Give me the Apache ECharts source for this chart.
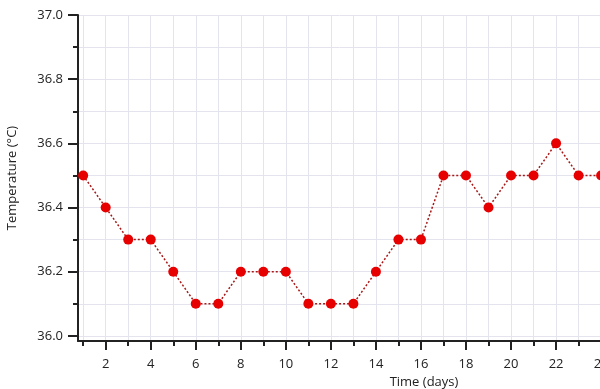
<!DOCTYPE html>
<html>
<head>
<meta charset="utf-8">
<script src="https://cdn.jsdelivr.net/npm/echarts@6/dist/echarts.min.js"></script>
<style>
  html, body { margin: 0; padding: 0; background: #fff; }
  #chart { width: 600px; height: 389px; }
</style>
</head>
<body>
<div id="chart"></div>
<script>
// days and temperatures (the picture is cut at day 24)
const days = [1, 2, 3, 4, 5, 6, 7, 8, 9, 10, 11, 12, 13, 14, 15, 16, 17, 18, 19, 20, 21, 22, 23, 24];
const temps = [36.5, 36.4, 36.3, 36.3, 36.2, 36.1, 36.1, 36.2, 36.2, 36.2, 36.1, 36.1, 36.1, 36.2,
               36.3, 36.3, 36.5, 36.5, 36.4, 36.5, 36.5, 36.6, 36.5, 36.5];

const xMajor = [2, 4, 6, 8, 10, 12, 14, 16, 18, 20, 22, 24, 26, 28, 30];
const xMinor = [1, 3, 5, 7, 9, 11, 13, 15, 17, 19, 21, 23, 25, 27, 29, 31];
const yMajor = [36.0, 36.2, 36.4, 36.6, 36.8, 37.0];
const yMinor = [36.1, 36.3, 36.5, 36.7, 36.9];

const font = '"Open Sans", "DejaVu Sans", sans-serif';
const gridLine = { show: true, lineStyle: { color: '#e4e4ee', width: 1 } };

let chart = echarts.init(document.getElementById('chart'));

let option = {
    animation: false,
    // the original plot runs on past the right edge of the picture
    grid: { left: 78, right: -170, top: 15, bottom: 48, outerBoundsMode: 'none', containLabel: false },
    xAxis: [
        {
            type: 'value',
            min: 0.77,
            max: 31.5,
            name: 'Time (days)',
            nameLocation: 'middle',
            nameGap: 33,
            nameTextStyle: { fontFamily: font, fontSize: 13, color: '#222' },
            axisLine: { show: true, onZero: false, lineStyle: { color: '#222', width: 2 } },
            axisTick: { show: true, length: 9, customValues: xMajor, lineStyle: { color: '#222', width: 2 } },
            axisLabel: { customValues: xMajor, margin: 17, fontFamily: font, fontSize: 13, color: '#222' },
            splitLine: gridLine
        },
        {
            type: 'value',
            min: 0.77,
            max: 31.5,
            position: 'bottom',
            axisLine: { show: false, onZero: false },
            axisTick: { show: true, length: 5, customValues: xMinor, lineStyle: { color: '#222', width: 2 } },
            axisLabel: { show: false },
            splitLine: gridLine
        }
    ],
    yAxis: [
        {
            type: 'value',
            min: 35.984,
            max: 37.0,
            name: 'Temperature (°C)',
            nameLocation: 'middle',
            nameGap: 59,
            nameTextStyle: { fontFamily: font, fontSize: 13, color: '#222' },
            axisLine: { show: true, onZero: false, lineStyle: { color: '#222', width: 2 } },
            axisTick: { show: true, length: 10, customValues: yMajor, lineStyle: { color: '#222', width: 2 } },
            axisLabel: {
                customValues: yMajor,
                margin: 15,
                fontFamily: font,
                fontSize: 13,
                color: '#222',
                formatter: v => v.toFixed(1)
            },
            splitLine: gridLine
        },
        {
            type: 'value',
            min: 35.984,
            max: 37.0,
            position: 'left',
            axisLine: { show: false, onZero: false },
            axisTick: { show: true, length: 5, customValues: yMinor, lineStyle: { color: '#222', width: 2 } },
            axisLabel: { show: false },
            splitLine: gridLine
        }
    ],
    series: [
        {
            type: 'line',
            data: days.map((d, i) => [d, temps[i]]),
            symbol: 'circle',
            symbolSize: 10,
            itemStyle: { color: '#e60000' },
            lineStyle: { color: '#a81818', width: 1.5, type: [2, 2] },
            z: 5
        }
    ]
};

chart.setOption(option);
</script>
</body>
</html>
